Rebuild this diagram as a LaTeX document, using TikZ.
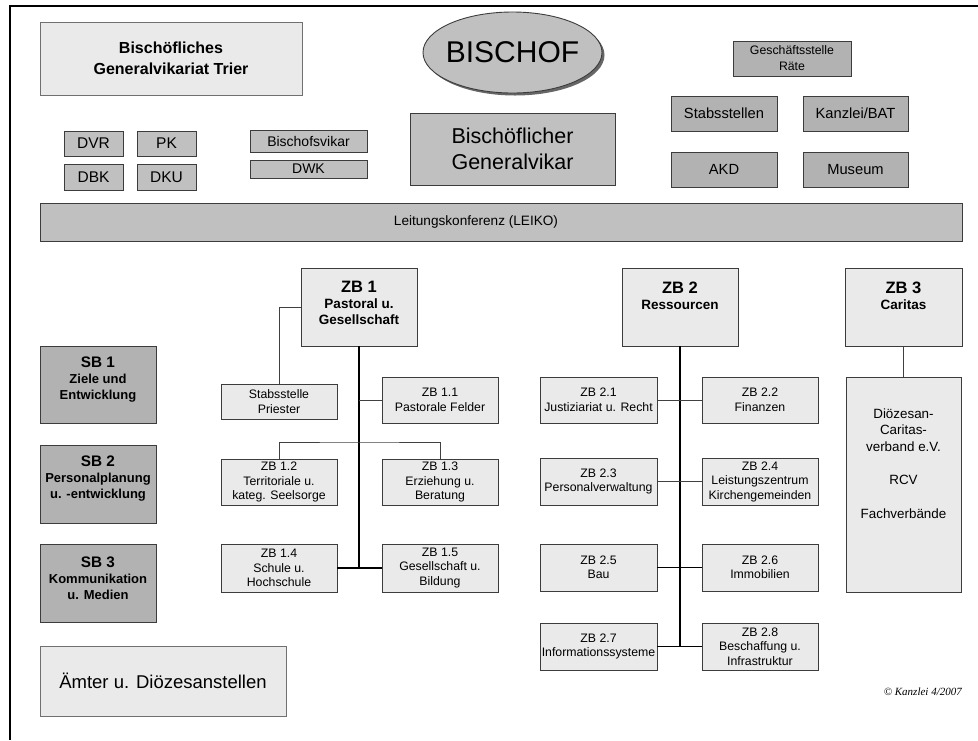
\documentclass[tikz,border=0pt]{standalone}
\usepackage{fontspec}
\setmainfont{Liberation Sans}
\newfontfamily\serifface{Liberation Serif}
\usetikzlibrary{shapes.geometric}
\definecolor{lightfill}{HTML}{EAEAEA}
\definecolor{midfill}{HTML}{C0C0C0}
\definecolor{darkfill}{HTML}{B2B2B2}
\definecolor{edge}{HTML}{3C3C3C}
\definecolor{softedge}{HTML}{707070}
\newcommand\fsz[2]{\fontsize{#1pt}{#2pt}\selectfont}
\begin{document}
\begin{tikzpicture}[x=1pt,y=-1pt,
  box/.style={draw=edge, line width=0.9pt, inner sep=0pt, align=center, text=black},
  light/.style={box, fill=lightfill},
  mid/.style={box, fill=midfill},
  dark/.style={box, fill=darkfill},
  sz/.style 2 args={minimum width=#1pt, minimum height=#2pt},
  small/.style={font=\fsz{12.3}{14.5}},
  txt/.style={inner sep=0pt, align=center, text=black},
  thin/.style={line width=1pt, draw=black!75},
  thinb/.style={line width=1.1pt, draw=black},
  trunk/.style={line width=2pt, draw=black}
]
\useasboundingbox (0,0) rectangle (978,740);
% frame
\draw[line width=2.5pt] (10,740) -- (10,6) -- (978,6);

% top area
\node[light, draw=softedge, sz={262}{73}, font=\bfseries\fsz{16}{21}] (bgvt) at (171,58.5) {Bischöfliches\\Generalvikariat Trier};
\node[mid, sz={59}{25}, font=\fsz{15.5}{18}] (dvr) at (93.5,143.5) {DVR};
\node[mid, sz={59}{25}, font=\fsz{15.5}{18}] (pk) at (166.5,143.5) {PK};
\node[mid, sz={59}{26}, font=\fsz{15.5}{18}] (dbk) at (93.5,177) {DBK};
\node[mid, sz={59}{26}, font=\fsz{15.5}{18}] (dku) at (166.5,177) {DKU};
\node[mid, sz={117}{22}, font=\fsz{14}{16}] (bv) at (308.5,141) {Bischofsvikar};
\node[mid, sz={117}{18}, font=\fsz{14}{16}] (dwk) at (308.5,169) {DWK};

\fill[black!60] (515,55) ellipse [x radius=89.5, y radius=40.5];
\node[ellipse, draw=edge, line width=0.9pt, fill=midfill, minimum width=179pt, minimum height=81pt, inner sep=0pt] (bischof) at (512.5,52.5) {};
\node[txt, font=\fsz{30}{36}] (bischoft) at (bischof.center) {BISCHOF};
\node[mid, sz={205}{72}, font=\fsz{21.5}{26}] (bgv) at (512.5,149) {Bischöflicher\\Generalvikar};

\node[dark, sz={118}{35}, font=\fsz{12.3}{16}] (gsr) at (792,58.5) {Geschäftsstelle\\Räte};
\node[dark, sz={106}{35}, font=\fsz{14.7}{17}] (stab) at (724,113.5) {Stabsstellen};
\node[dark, sz={105}{35}, font=\fsz{14.7}{17}] (kanz) at (855.5,113.5) {Kanzlei/BAT};
\node[dark, sz={106}{35}, font=\fsz{14.7}{17}] (akd) at (724,169.5) {AKD};
\node[dark, sz={105}{35}, font=\fsz{14.7}{17}] (mus) at (855.5,169.5) {Museum};

\node[mid, sz={922}{38}] (leiko) at (501,222) {};
\node[txt, font=\fsz{13.6}{16}] (leikot) at (476,222) {Leitungskonferenz (LEIKO)};

% ZB 1
\node[light, sz={116}{78}] (zb1) at (359,307) {};
\node[txt, font=\bfseries\fsz{13.5}{16}] (zb1t) at (359,303) {{\fsz{16.5}{18}ZB 1}\\Pastoral u.\\Gesellschaft};
\node[light, small, sz={116}{35}] (stp) at (279,401.5) {Stabsstelle\\Priester};
\node[light, small, sz={116}{46}] (zb11) at (440,400) {ZB 1.1\\Pastorale Felder};
\node[light, small, sz={116}{46}] (zb12) at (279,482) {ZB 1.2\\Territoriale u.\\kateg. Seelsorge};
\node[light, small, sz={116}{46}] (zb13) at (440,482) {ZB 1.3\\Erziehung u.\\Beratung};
\node[light, small, sz={116}{48}] (zb14) at (279,568) {ZB 1.4\\Schule u.\\Hochschule};
\node[light, small, sz={116}{48}] (zb15) at (440,568) {ZB 1.5\\Gesellschaft u.\\Bildung};
\coordinate (h12) at (359,442);
\draw[trunk] (zb1.south) -- (zb1.south |- zb14.east);
\draw[thin] (zb1.west) -| (stp.north);
\draw[thin] (zb11.west) -- (zb11.west -| zb1.south);
\draw[thin] (zb12.north) |- (h12) -| (zb13.north);
\draw[thinb] (zb14.east) -- (zb15.west);

% ZB 2
\node[light, sz={116}{78}] (zb2) at (680,307) {};
\node[txt, font=\bfseries\fsz{13.5}{16}] (zb2t) at (680,295.5) {{\fsz{16.5}{18}ZB 2}\\Ressourcen};
\node[light, small, sz={117}{46}] (zb21) at (598.5,400) {ZB 2.1\\Justiziariat u. Recht};
\node[light, small, sz={116}{46}] (zb22) at (760,400) {ZB 2.2\\Finanzen};
\node[light, small, sz={117}{47}] (zb23) at (598.5,481.5) {ZB 2.3\\Personalverwaltung};
\node[light, small, sz={116}{47}] (zb24) at (760,481.5) {ZB 2.4\\Leistungszentrum\\Kirchengemeinden};
\node[light, small, sz={117}{47}] (zb25) at (598.5,567.5) {ZB 2.5\\Bau};
\node[light, small, sz={116}{47}] (zb26) at (760,567.5) {ZB 2.6\\Immobilien};
\node[light, small, sz={117}{47}] (zb27) at (598.5,646.5) {ZB 2.7\\Informationssysteme};
\node[light, small, sz={116}{47}] (zb28) at (760,646.5) {ZB 2.8\\Beschaffung u.\\Infrastruktur};
\draw[trunk] (zb2.south) -- (zb2.south |- zb27.east);
\draw[thin] (zb21.east) -- (zb22.west);
\draw[thin] (zb23.east) -- (zb24.west);
\draw[thinb] (zb25.east) -- (zb26.west);
\draw[thinb] (zb27.east) -- (zb28.west);

% ZB 3
\node[light, sz={117}{78}] (zb3) at (903.5,307) {};
\node[txt, font=\bfseries\fsz{13.5}{16}] (zb3t) at (903.5,295.5) {{\fsz{16.5}{18}ZB 3}\\Caritas};
\node[light, sz={115}{215}] (dcv) at (903.5,484.5) {};
\node[txt, font=\fsz{13.4}{16.5}] (dcvt) at (903.5,463.5) {Diözesan-\\Caritas-\\verband e.V.\\[17pt]RCV\\[17pt]Fachverbände};
\draw[thin] (zb3.south) -- (dcv.north);

% SB
\node[dark, sz={116}{77}] (sb1) at (98,384.5) {};
\node[txt, font=\bfseries\fsz{13}{16}] (sb1t) at (98,380) {{\fsz{15.3}{17}SB 1}\\Ziele und\\Entwicklung};
\node[dark, sz={116}{78}] (sb2) at (98,484) {};
\node[txt, font=\bfseries\fsz{13}{16}] (sb2t) at (98,479) {{\fsz{15.3}{17}SB 2}\\Personalplanung\\u. -entwicklung};
\node[dark, sz={116}{78}] (sb3) at (98,583) {};
\node[txt, font=\bfseries\fsz{13}{16}] (sb3t) at (98,578) {{\fsz{15.3}{17}SB 3}\\Kommunikation\\u. Medien};

\node[light, draw=softedge, sz={246}{70}, font=\fsz{18.5}{22}] (aemter) at (163,681) {Ämter u. Diözesanstellen};

\node[txt, anchor=east, font=\serifface\itshape\fsz{11}{13}] (copy) at (962,692) {© Kanzlei 4/2007};
\end{tikzpicture}
\end{document}
